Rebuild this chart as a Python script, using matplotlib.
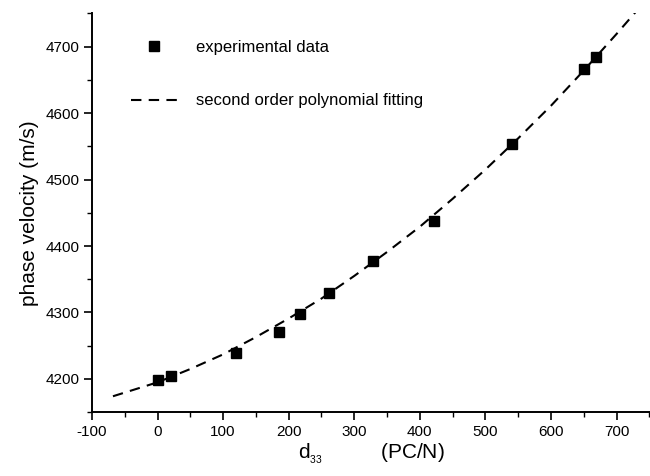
import matplotlib

matplotlib.use("Agg")
import matplotlib.pyplot as plt
from matplotlib.ticker import MultipleLocator

# experimental points
d33 = [0, 21, 119, 185, 217, 262, 328, 422, 541, 650, 669]
velocity = [4198, 4205, 4239, 4271, 4297, 4329, 4378, 4438, 4554, 4667, 4684]

# dashed fit curve
fit_x = [-68, 0, 50, 100, 150, 200, 250, 300, 350, 400, 450, 500, 550, 600, 650, 700, 730]
fit_y = [4174, 4195, 4215, 4237, 4263, 4291, 4321, 4355, 4391, 4429, 4471, 4515, 4562, 4611, 4664, 4719, 4753]

plt.rcParams.update(
    {
        "font.family": ["Liberation Sans", "DejaVu Sans"],
        "mathtext.fontset": "custom",
        "mathtext.rm": "Liberation Sans",
        "mathtext.default": "regular",
        "axes.unicode_minus": False,
    }
)

fig = plt.figure(figsize=(6.5, 4.76), dpi=100)
ax = fig.add_axes([0.1415, 0.134, 0.8585, 0.838])

ax.plot(fit_x, fit_y, color="black", linewidth=1.5, linestyle=(0, (5, 3.5)),
        label="second order polynomial fitting", zorder=2)
ax.plot(d33, velocity, linestyle="none", marker="s", markersize=6.5, color="black",
        label="experimental data", zorder=3)

ax.set_xlim(-100, 751)
ax.set_ylim(4150, 4750)
ax.xaxis.set_major_locator(MultipleLocator(100))
ax.xaxis.set_minor_locator(MultipleLocator(50))
ax.yaxis.set_major_locator(MultipleLocator(100))
ax.yaxis.set_minor_locator(MultipleLocator(50))
ax.tick_params(which="major", direction="out", length=6, width=1.2, labelsize=11, pad=3)
ax.tick_params(which="minor", direction="out", length=3.5, width=1.0)

for side in ("top", "right"):
    ax.spines[side].set_visible(False)
for side in ("left", "bottom"):
    ax.spines[side].set_linewidth(1.4)

ax.set_ylabel("phase velocity (m/s)", fontsize=15, labelpad=5)
ax.set_xlabel(r"d$_{_{33}}$          (PC/N)", fontsize=15, labelpad=2)

handles, labels = ax.get_legend_handles_labels()
ax.legend(handles[::-1], labels[::-1], loc="upper left", bbox_to_anchor=(0.07, 0.933),
          frameon=False, fontsize=12, handlelength=2.8, handletextpad=1.08,
          labelspacing=2.3, borderpad=0, borderaxespad=0)

fig.savefig("out.png", dpi=100)
